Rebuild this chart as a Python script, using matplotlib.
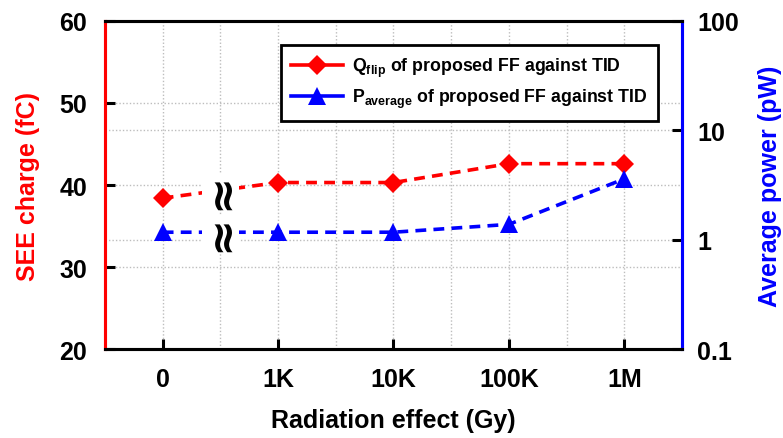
import matplotlib
matplotlib.use("Agg")
import matplotlib.pyplot as plt
from matplotlib.lines import Line2D

# data
doses = ["0", "1K", "10K", "100K", "1M"]
see_charge = [38.4, 40.3, 40.3, 42.6, 42.6]        # fC
avg_power = [1.17, 1.17, 1.17, 1.38, 3.6]           # pW
left_ticks = [20, 30, 40, 50, 60]
right_ticks = [0.1, 1, 10, 100]
right_tick_labels = ["0.1", "1", "10", "100"]

RED = "#FF0000"
BLUE = "#0000FF"
GRID = "#BDBDBD"

plt.rcParams.update(
    {
        "font.family": "Liberation Sans",
        "font.weight": "bold",
        "mathtext.fontset": "custom",
        "mathtext.rm": "Liberation Sans:bold",
        "mathtext.bf": "Liberation Sans:bold",
        "mathtext.default": "rm",
    }
)

fig = plt.figure(figsize=(7.83, 4.39), dpi=100)
ax = fig.add_axes([0.1341, 0.2027, 0.7369, 0.7472])
ax2 = ax.twinx()

x = list(range(len(doses)))

ax.plot(x, see_charge, color=RED, linestyle=(0, (3, 2)), linewidth=2.6,
        marker="D", markersize=10.5, markeredgewidth=0, zorder=3)
ax2.plot(x, avg_power, color=BLUE, linestyle=(0, (3, 2)), linewidth=2.6,
         marker="^", markersize=13, markeredgewidth=0, zorder=3)

# axis break marks between 0 and 1K
brk_x = 0.5
brk_style = dict(rotation=90, ha="center", va="center", fontsize=32,
                 fontweight="bold", family="DejaVu Sans", zorder=4,
                 bbox=dict(facecolor="white", edgecolor="none", pad=-2))
ax.text(brk_x, (see_charge[0] + see_charge[1]) / 2, "\u2248", **brk_style)
ax2.text(brk_x, (avg_power[0] * avg_power[1]) ** 0.5, "\u2248", **brk_style)

ax.set_xlim(-0.5, len(doses) - 0.5)
ax.set_ylim(20, 60)
ax2.set_yscale("log")
ax2.set_ylim(0.1, 100)

ax.set_xticks(x, doses)
ax.set_xticks([i + 0.5 for i in x[:-1]], minor=True)
ax.set_yticks(left_ticks)
ax2.set_yticks(right_ticks, right_tick_labels)
ax2.yaxis.set_minor_locator(matplotlib.ticker.NullLocator())

ax.grid(True, which="both", axis="x", color=GRID, linestyle=(0, (1, 1.5)), linewidth=1)
ax.grid(True, axis="y", color=GRID, linestyle=(0, (1, 1.5)), linewidth=1)
ax2.grid(True, axis="y", color=GRID, linestyle=(0, (1, 1.5)), linewidth=1)
ax.set_axisbelow(True)

ax.tick_params(axis="x", which="major", direction="in", length=7, width=2.2,
               pad=13, labelsize=18)
ax.tick_params(axis="x", which="minor", length=0)
ax.tick_params(axis="y", direction="in", length=7, width=2.2, pad=13, labelsize=18)
ax2.tick_params(axis="y", direction="in", length=7, width=2.2, pad=11, labelsize=18)

for a in (ax, ax2):
    for s in a.spines.values():
        s.set_linewidth(2.2)
        s.set_color("black")
ax.spines["left"].set_color(RED)
ax2.spines["left"].set_color(RED)
ax2.spines["right"].set_color(BLUE)
ax.spines["right"].set_color(BLUE)

ax.set_xlabel("Radiation effect (Gy)", fontsize=18, fontweight="bold", labelpad=12)
ax.set_ylabel("SEE charge (fC)", fontsize=18, fontweight="bold", color=RED, labelpad=14)
ax2.set_ylabel("Average power (pW)", fontsize=18, fontweight="bold", color=BLUE, labelpad=14)

handles = [
    Line2D([], [], color=RED, linewidth=2.6, marker="D", markersize=10.5, markeredgewidth=0),
    Line2D([], [], color=BLUE, linewidth=2.6, marker="^", markersize=13, markeredgewidth=0),
]
labels = [
    "Q$_{flip}$ of proposed FF against TID",
    "P$_{average}$ of proposed FF against TID",
]
leg = ax2.legend(handles, labels, loc="upper right", bbox_to_anchor=(0.958, 0.927),
                 borderaxespad=0, fancybox=False, framealpha=1, handlelength=2.9,
                 handletextpad=0.5,
                 prop={"family": "Liberation Sans", "weight": "bold", "size": 12.8},
                 labelspacing=0.45, borderpad=0.6)
leg.get_frame().set_edgecolor("black")
leg.get_frame().set_linewidth(2)

fig.savefig("out.png", dpi=100)
